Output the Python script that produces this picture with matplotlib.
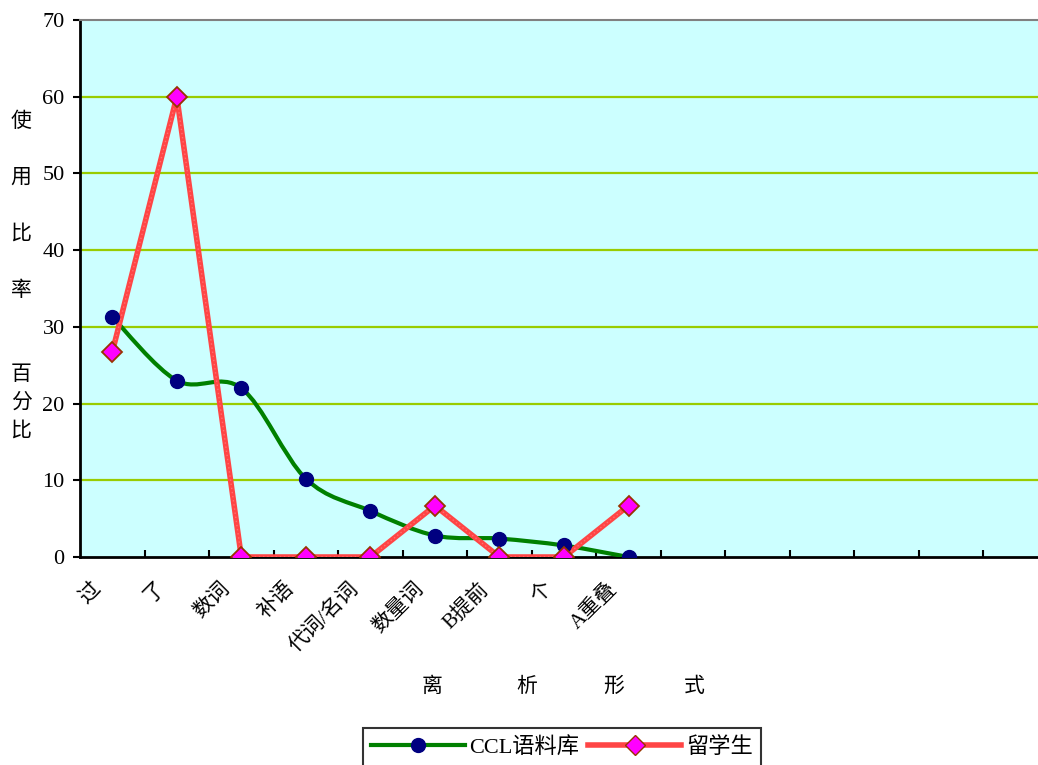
import matplotlib
matplotlib.use('Agg')
import matplotlib.pyplot as plt
from matplotlib.path import Path
from matplotlib.patches import PathPatch
from matplotlib.lines import Line2D
from matplotlib.transforms import ScaledTranslation

plt.rcParams['font.family'] = ['Liberation Serif', 'Noto Sans CJK SC', 'DejaVu Sans']

# data
categories = ['过', '了', '数词', '补语', '代词/名词', '数量词', 'B提前', '个', 'A重叠']
ccl = [31.3, 23.0, 22.0, 10.2, 6.0, 2.8, 2.4, 1.5, 0.0]
students = [26.7, 60.0, 0.0, 0.0, 0.0, 6.7, 0.0, 0.0, 6.7]
n_slots = 15
y_ticks = [0, 10, 20, 30, 40, 50, 60, 70]

x = [i + 0.5 for i in range(len(categories))]

fig = plt.figure(figsize=(10.38, 7.65), dpi=100)
W, H = 1038, 765
ax = fig.add_axes([80 / W, 1 - 557 / H, 968 / W, 537 / H])
ax.set_facecolor('#CCFFFF')
ax.set_xlim(0, n_slots)
ax.set_ylim(0, 70)

# gridlines
for yv in y_ticks[1:-1]:
    ax.axhline(yv, color='#99CC00', lw=1.6, zorder=1)

# smoothed green line (Catmull-Rom style bezier like excel smoothing)
pts = list(zip(x, ccl))
verts = [pts[0]]
codes = [Path.MOVETO]
for i in range(len(pts) - 1):
    p0 = pts[i - 1] if i > 0 else pts[i]
    p1 = pts[i]
    p2 = pts[i + 1]
    p3 = pts[i + 2] if i + 2 < len(pts) else pts[i + 1]
    c1 = (p1[0] + (p2[0] - p0[0]) / 6, p1[1] + (p2[1] - p0[1]) / 6)
    c2 = (p2[0] - (p3[0] - p1[0]) / 6, p2[1] - (p3[1] - p1[1]) / 6)
    verts += [c1, c2, p2]
    codes += [Path.CURVE4] * 3
ax.add_patch(PathPatch(Path(verts, codes), fill=False, edgecolor='#008000', lw=3, zorder=3))
ax.plot(x, ccl, ls='none', marker='o', ms=10, color='#000080', zorder=5)

# red line
ax.plot(x, students, color='#FF4545', lw=4, zorder=4, solid_joinstyle='round')
ax.plot(x, students, color='#FF7070', lw=1, ls=(0, (1, 2)), zorder=4)
ax.plot(x, students, ls='none', marker='D', ms=10, markerfacecolor='#FF00FF',
        markeredgecolor='#993300', markeredgewidth=1.3, zorder=6)

# spines
ax.spines['top'].set_color('#808080')
ax.spines['top'].set_linewidth(1.5)
ax.spines['right'].set_visible(False)
ax.spines['left'].set_linewidth(2)
ax.spines['bottom'].set_linewidth(2)

ax.set_yticks(y_ticks)
ax.tick_params(axis='y', direction='out', length=5, width=1.5, labelsize=16, pad=6)

ax.set_xticks(range(1, n_slots))
ax.set_xticklabels([])
ax.tick_params(axis='x', direction='in', length=5, width=1.5)

off = ScaledTranslation(-0.21, -0.22, fig.dpi_scale_trans)
for xi, lab in zip(x, categories):
    ax.text(xi, 0, lab, transform=ax.get_xaxis_transform() + off, rotation=45,
            ha='right', va='top', rotation_mode='anchor', fontsize=15)

# y axis title, stacked characters
for ch, yp in [('使', 122), ('用', 178), ('比', 234), ('率', 291),
               ('百', 375), ('分', 403), ('比', 431)]:
    fig.text(21 / W, 1 - yp / H, ch, ha='center', va='center', fontsize=15)

# x axis title
for ch, xp in [('离', 432), ('析', 527), ('形', 614), ('式', 694)]:
    fig.text(xp / W, 1 - 687 / H, ch, ha='center', va='center', fontsize=15)

handles = [
    Line2D([], [], color='#008000', lw=3, marker='o', ms=10, markerfacecolor='#000080',
           markeredgecolor='#000080'),
    Line2D([], [], color='#FF4545', lw=4, marker='D', ms=10, markerfacecolor='#FF00FF',
           markeredgecolor='#993300'),
]
leg = fig.legend(handles, ['CCL语料库', '留学生'], loc='upper center',
                 bbox_to_anchor=(562 / W, 1 - 728 / H), ncol=2, fontsize=16,
                 frameon=True, fancybox=False, edgecolor='black', handlelength=4.2,
                 handletextpad=0.2, columnspacing=0.4, borderpad=0.4, borderaxespad=0)
leg.get_frame().set_linewidth(1.5)

fig.savefig('out.png', dpi=100, facecolor='white')
